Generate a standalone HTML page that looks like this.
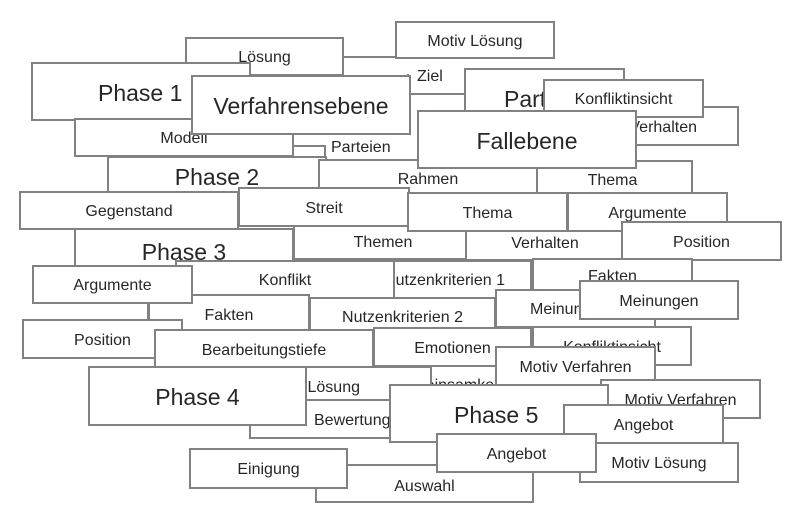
<!DOCTYPE html>
<html><head><meta charset="utf-8"><style>
body{margin:0;width:807px;height:525px;background:#fff;position:relative;overflow:hidden;font-family:"Liberation Sans",sans-serif;color:#262626}
.b{position:absolute;box-sizing:border-box;border:2px solid #808185;background:#fff;display:flex;align-items:center;justify-content:center;font-size:16px;white-space:nowrap;overflow:hidden;padding-top:3px}
.L{font-size:23px}
.ln{position:absolute;background:#808185}
.t{position:absolute;font-size:16px;white-space:nowrap}
</style></head><body>
<div class="ln" style="left:343px;top:56px;width:54px;height:2px"></div>
<div class="ln" style="left:293px;top:145px;width:33px;height:2px"></div>
<div class="ln" style="left:324px;top:145px;width:2px;height:16px"></div>
<div class="ln" style="left:147px;top:302px;width:2px;height:20px"></div>
<div class="ln" style="left:347px;top:464px;width:20px;height:2px"></div>
<div class="ln" style="left:407px;top:74px;width:2px;height:59px"></div>
<div class="ln" style="left:408px;top:93px;width:60px;height:2px"></div>

<div class="b" style="left:395px;top:21px;width:160px;height:38px">Motiv Lösung</div>
<div class="b" style="left:185px;top:37px;width:159px;height:39px">Lösung</div>
<div class="t" style="left:417px;top:68px">Ziel</div>
<div class="b L" style="left:464px;top:68px;width:161px;height:60px;justify-content:flex-start"><span style="margin-left:38px">Parteien</span></div>
<div class="b" style="left:560px;top:106px;width:179px;height:40px;justify-content:flex-end"><span style="margin-right:40px">Verhalten</span></div>
<div class="b" style="left:543px;top:79px;width:161px;height:39px">Konfliktinsicht</div>
<div class="b L" style="left:31px;top:62px;width:220px;height:59px;justify-content:flex-start"><span style="margin-left:65px">Phase 1</span></div>
<div class="b L" style="left:107px;top:156px;width:220px;height:40px">Phase 2</div>
<div class="b" style="left:74px;top:118px;width:220px;height:39px">Modell</div>
<div class="t" style="left:331px;top:139px">Parteien</div>
<div class="b L" style="left:191px;top:75px;width:220px;height:60px">Verfahrensebene</div>
<div class="b" style="left:532px;top:160px;width:161px;height:38px">Thema</div>
<div class="b" style="left:318px;top:159px;width:220px;height:39px">Rahmen</div>
<div class="b L" style="left:417px;top:110px;width:220px;height:59px">Fallebene</div>
<div class="b L" style="left:74px;top:228px;width:220px;height:40px;padding-top:8px">Phase 3</div>
<div class="b" style="left:293px;top:224px;width:180px;height:36px;align-items:flex-start;padding-top:8px">Themen</div>
<div class="b" style="left:19px;top:191px;width:220px;height:39px">Gegenstand</div>
<div class="b" style="left:238px;top:187px;width:172px;height:40px">Streit</div>
<div class="b" style="left:465px;top:224px;width:160px;height:37px">Verhalten</div>
<div class="b" style="left:407px;top:192px;width:161px;height:40px">Thema</div>
<div class="b" style="left:567px;top:192px;width:161px;height:40px">Argumente</div>
<div class="b" style="left:621px;top:221px;width:161px;height:40px">Position</div>
<div class="b" style="left:532px;top:258px;width:161px;height:40px;align-items:flex-start;padding-top:8px">Fakten</div>
<div class="b" style="left:330px;top:260px;width:202px;height:39px;justify-content:flex-end"><span style="margin-right:25px">Nutzenkriterien 1</span></div>
<div class="b" style="left:175px;top:260px;width:220px;height:39px">Konflikt</div>
<div class="b" style="left:148px;top:294px;width:162px;height:40px">Fakten</div>
<div class="b" style="left:309px;top:297px;width:187px;height:34px;padding-top:8px">Nutzenkriterien 2</div>
<div class="b" style="left:495px;top:289px;width:161px;height:39px;justify-content:flex-start"><span style="margin-left:33px">Meinungen</span></div>
<div class="b" style="left:579px;top:280px;width:160px;height:40px">Meinungen</div>
<div class="b" style="left:32px;top:265px;width:161px;height:39px">Argumente</div>
<div class="b" style="left:22px;top:319px;width:161px;height:40px">Position</div>
<div class="b" style="left:532px;top:326px;width:160px;height:40px">Konfliktinsicht</div>
<div class="b" style="left:330px;top:355px;width:200px;height:45px;justify-content:flex-start;padding-top:16px"><span style="margin-left:59px">Gemeinsamkeiten</span></div>
<div class="b" style="left:373px;top:327px;width:159px;height:40px">Emotionen</div>
<div class="b" style="left:154px;top:329px;width:220px;height:40px">Bearbeitungstiefe</div>
<div class="b" style="left:200px;top:366px;width:232px;height:40px;justify-content:flex-end"><span style="margin-right:70px">Lösung</span></div>
<div class="b" style="left:249px;top:399px;width:200px;height:40px;justify-content:flex-start"><span style="margin-left:63px">Bewertung</span></div>
<div class="b" style="left:495px;top:346px;width:161px;height:40px">Motiv Verfahren</div>
<div class="b L" style="left:88px;top:366px;width:219px;height:60px">Phase 4</div>
<div class="b" style="left:600px;top:379px;width:161px;height:40px">Motiv Verfahren</div>
<div class="b L" style="left:389px;top:384px;width:220px;height:59px;align-items:flex-start;padding-top:16px;justify-content:flex-start"><span style="margin-left:63px">Phase 5</span></div>
<div class="b" style="left:563px;top:404px;width:161px;height:40px">Angebot</div>
<div class="b" style="left:579px;top:442px;width:160px;height:41px">Motiv Lösung</div>
<div class="b" style="left:315px;top:464px;width:219px;height:39px;padding-top:6px">Auswahl</div>
<div class="b" style="left:436px;top:433px;width:161px;height:40px">Angebot</div>
<div class="b" style="left:189px;top:448px;width:159px;height:41px">Einigung</div>
</body></html>
